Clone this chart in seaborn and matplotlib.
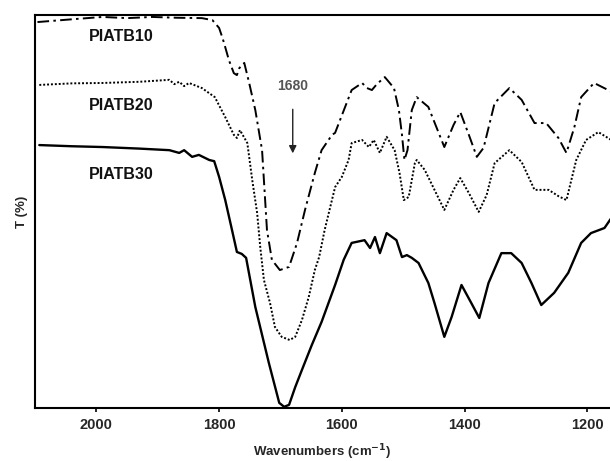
import matplotlib
matplotlib.use("Agg")
import matplotlib.pyplot as plt
import pandas as pd
import seaborn as sns

# FTIR spectra of PIATB samples: wavenumber (cm^-1) vs transmittance (%)
piatb10_wn = [2096, 2040, 1990, 1950, 1909, 1870, 1828, 1811, 1800, 1795, 1792, 1784,
              1776, 1771, 1767, 1759, 1751, 1741, 1730, 1722, 1714, 1701, 1686, 1673,
              1660, 1644, 1633, 1616, 1611, 1584, 1567, 1559, 1551, 1543, 1530, 1515,
              1507, 1502, 1498, 1493, 1486, 1478, 1459, 1446, 1433, 1418, 1407, 1393,
              1380, 1369, 1351, 1327, 1307, 1286, 1267, 1247, 1234, 1221, 1210, 1189,
              1166, 1158]
piatb10_t = [98.2, 98.9, 99.5, 99.2, 99.5, 99.3, 99.2, 98.7, 96.7, 94.4, 92.9, 88.5,
             85.2, 84.7, 86.5, 87.8, 82.7, 75.8, 65.6, 45.3, 37.7, 35.1, 35.9, 42.0,
             50.4, 59.8, 65.6, 69.5, 70.0, 80.9, 82.7, 81.4, 80.9, 82.4, 84.2, 81.4,
             75.8, 69.5, 63.1, 65.6, 75.8, 79.1, 76.6, 71.5, 66.4, 72.0, 75.3, 69.5,
             63.9, 66.2, 77.6, 81.4, 78.4, 72.5, 72.5, 68.7, 64.9, 71.5, 79.1, 82.7,
             80.9, 80.2]

piatb20_wn = [2093, 2040, 1990, 1930, 1881, 1873, 1865, 1857, 1849, 1828, 1807, 1790,
              1776, 1771, 1766, 1754, 1746, 1738, 1733, 1727, 1717, 1709, 1698, 1685,
              1676, 1665, 1654, 1644, 1637, 1628, 1611, 1600, 1589, 1584, 1567, 1556,
              1548, 1538, 1527, 1514, 1506, 1499, 1491, 1481, 1478, 1465, 1449, 1433,
              1418, 1407, 1393, 1377, 1364, 1351, 1327, 1307, 1286, 1263, 1247, 1234,
              1218, 1202, 1182, 1161, 1158]
piatb20_t = [82.2, 82.6, 82.7, 83.0, 83.5, 82.4, 83.0, 81.9, 82.7, 81.4, 79.1, 74.0,
             69.5, 68.7, 70.7, 67.4, 58.0, 49.6, 41.0, 32.6, 26.7, 20.6, 18.1, 17.3,
             18.1, 22.4, 28.2, 35.1, 38.4, 45.3, 56.2, 58.8, 63.1, 67.4, 68.2, 66.4,
             68.2, 64.9, 69.0, 65.6, 59.8, 52.9, 53.7, 62.3, 63.1, 60.6, 55.5, 50.4,
             55.5, 58.5, 54.7, 49.9, 54.2, 62.3, 65.6, 62.6, 55.5, 55.5, 53.9, 52.9,
             63.1, 68.2, 70.2, 68.2, 67.8]

piatb30_wn = [2093, 2040, 1990, 1930, 1881, 1865, 1857, 1844, 1833, 1816, 1808, 1800,
              1790, 1779, 1771, 1763, 1756, 1741, 1719, 1702, 1694, 1686, 1676, 1665,
              1649, 1633, 1611, 1597, 1584, 1563, 1554, 1546, 1538, 1527, 1511, 1502,
              1494, 1486, 1475, 1459, 1449, 1433, 1421, 1405, 1389, 1376, 1361, 1340,
              1324, 1307, 1291, 1275, 1254, 1231, 1210, 1194, 1172, 1161, 1158]
piatb30_t = [66.9, 66.6, 66.4, 66.0, 65.6, 64.9, 65.6, 63.9, 64.4, 63.1, 62.8, 58.8,
             52.9, 45.3, 39.7, 39.2, 38.2, 25.7, 11.5, 1.3, 0.3, 0.8, 5.3, 9.7,
             16.0, 21.9, 31.3, 37.7, 42.0, 42.7, 40.7, 43.5, 39.4, 44.5, 42.7, 38.4,
             38.9, 38.2, 36.9, 31.8, 26.7, 18.1, 23.2, 31.3, 26.7, 22.9, 31.8, 39.4,
             39.4, 36.9, 31.8, 26.2, 29.3, 34.4, 42.0, 44.5, 45.8, 48.3, 48.8]

sample_names = ["PIATB10", "PIATB20", "PIATB30"]
label_wn = [2012, 2012, 2012]
label_t = [94.4, 77.0, 59.3]

peak_wn = 1680
peak_label = "1680"

sns.set_style("ticks")
plt.rcParams["font.family"] = ["Liberation Sans", "DejaVu Sans"]

fig = plt.figure(figsize=(6.1, 4.61), dpi=100)
ax = fig.add_axes([0.0574, 0.115, 0.9426, 0.8525])

series = [
    (piatb10_wn, piatb10_t, (6, 2.2, 1.3, 2.2)),
    (piatb20_wn, piatb20_t, (1.0, 1.0)),
    (piatb30_wn, piatb30_t, None),
]
for name, (wn, t, dash) in zip(sample_names, series):
    df = pd.DataFrame({"wn": wn, "t": t})
    sns.lineplot(data=df, x="wn", y="t", ax=ax, color="black", sort=False,
                 estimator=None, linewidth=1.7 if dash is None else 1.4)
    line = ax.get_lines()[-1]
    if dash is not None:
        line.set_dashes(dash)

for name, x, y in zip(sample_names, label_wn, label_t):
    ax.text(x, y, name, fontsize=11.5, fontweight="bold", ha="left", va="center",
            color="#111111")

ax.annotate("", xy=(peak_wn, 64.8), xytext=(peak_wn, 76.0),
            arrowprops=dict(arrowstyle="-|>", color="#222222", lw=1.0,
                            mutation_scale=11, shrinkA=0, shrinkB=0))
ax.text(peak_wn, 81.9, peak_label, fontsize=10, fontweight="bold", ha="center",
        va="center", color="#555555")

ax.set_xlim(2100, 1163)
ax.set_ylim(0, 100)
ax.set_xticks([2000, 1800, 1600, 1400, 1200])
ax.set_yticks([])
ax.tick_params(axis="x", direction="out", length=3, width=1.2, labelsize=10.5,
               pad=4, color="black")
for lbl in ax.get_xticklabels():
    lbl.set_fontweight("bold")

ax.set_xlabel("Wavenumbers (cm$^{\\mathbf{-1}}$)", fontsize=9.5, fontweight="bold",
              labelpad=8)
ax.set_ylabel("T (%)", fontsize=9.5, fontweight="bold", labelpad=5)

for side in ["left", "top", "bottom"]:
    ax.spines[side].set_visible(True)
    ax.spines[side].set_linewidth(1.5)
    ax.spines[side].set_color("black")
ax.spines["right"].set_visible(False)

fig.savefig("out.png", dpi=100)
